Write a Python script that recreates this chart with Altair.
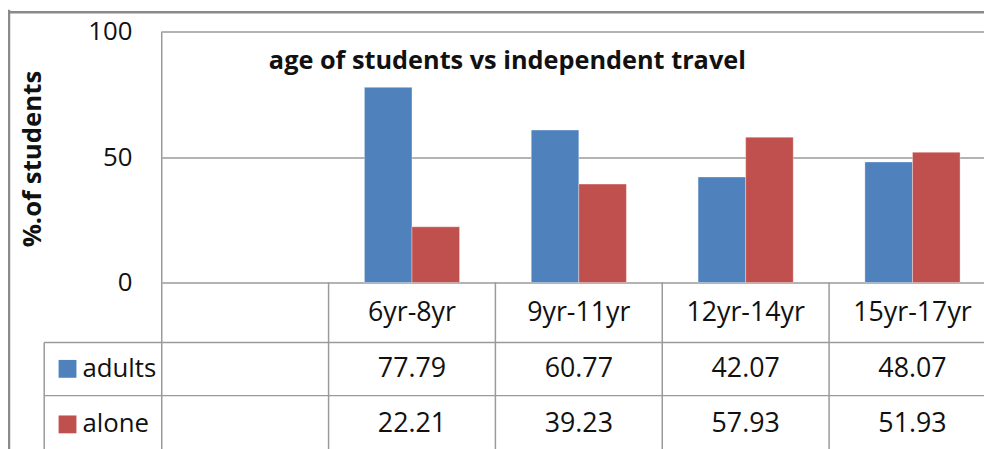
import altair as alt
import pandas as pd

# ---- data ----
categories = ["6yr-8yr", "9yr-11yr", "12yr-14yr", "15yr-17yr"]
series = ["adults", "alone"]
adults = [77.79, 60.77, 42.07, 48.07]
alone = [22.21, 39.23, 57.93, 51.93]
y_ticks = [0, 50, 100]
title_text = "age of students vs independent travel"
y_title = "%.of students"

# ---- styling ----
colors = ["#4F81BD", "#C0504D"]
FONT = "Open Sans"
TXT = "#111111"
GRID = "#9a9a9a"
cat_domain = [""] + categories   # Excel shows an empty first category

bars_df = pd.DataFrame({
    "cat": categories * 2,
    "series": [series[0]] * len(categories) + [series[1]] * len(categories),
    "value": adults + alone,
})
cats_df = pd.DataFrame({"cat": categories})
one = pd.DataFrame({"k": [0]})

x_scale = alt.Scale(domain=cat_domain, paddingInner=0, paddingOuter=0)
x_axis = alt.Axis(orient="bottom", ticks=False, tickSize=0, domain=False, grid=False,
                  labelFontSize=27, labelFont=FONT, labelColor=TXT, labelPadding=30,
                  labelBaseline="middle", labelAngle=0, title=None, labelOverlap=False)
y_axis = alt.Axis(values=y_ticks, grid=True, gridColor=GRID, gridWidth=1.5,
                  ticks=False, tickSize=0, domain=False,
                  labelFontSize=26, labelFont=FONT, labelColor=TXT, labelPadding=30,
                  title=y_title, titleFontSize=26, titleFont=FONT, titleFontWeight="bold",
                  titleColor=TXT, titleX=-130, titleY=128, titleAngle=270,
                  titleAlign="center", titleBaseline="middle")

legend = alt.Legend(orient="none", legendX=-108, legendY=327, title=None,
                    symbolType="square", symbolSize=324, symbolStrokeWidth=0,
                    labelFontSize=26, labelFont=FONT, labelColor=TXT, labelOffset=2,
                    rowPadding=30, padding=0, symbolOpacity=1)

bars = alt.Chart(bars_df).mark_bar(stroke="#ffffff", strokeOpacity=0.35, strokeWidth=1).encode(
    x=alt.X("cat:N", scale=x_scale, axis=x_axis),
    xOffset=alt.XOffset("series:N", scale=alt.Scale(domain=series, paddingInner=0, paddingOuter=0.753)),
    y=alt.Y("value:Q", scale=alt.Scale(domain=[0, 100]), axis=y_axis),
    color=alt.Color("series:N", scale=alt.Scale(domain=series, range=colors), legend=legend),
)

# table vertical lines at category starts
vlines = alt.Chart(cats_df).mark_rule(color=GRID, strokeWidth=1.5).encode(
    x=alt.X("cat:N", scale=x_scale, axis=x_axis, bandPosition=0),
    y=alt.value(253), y2=alt.value(425),
)

def rule(**kw):
    return alt.Chart(one).mark_rule(color=kw.pop("color", GRID), strokeWidth=kw.pop("sw", 1.5)).encode(**kw)

plot_left = rule(x=alt.value(0), y=alt.value(0), y2=alt.value(425))
row1 = rule(y=alt.value(313.5), x=alt.value(-118.5), x2=alt.value(860))
row2 = rule(y=alt.value(367), x=alt.value(-118.5), x2=alt.value(860))
leg_left = rule(x=alt.value(-118.5), y=alt.value(313.5), y2=alt.value(425))
outer_top = rule(y=alt.value(-19.5), x=alt.value(-155), x2=alt.value(860), color="#8a8a8a", sw=2.5)
outer_left = rule(x=alt.value(-154), y=alt.value(-22), y2=alt.value(425), color="#8a8a8a", sw=2.5)

def value_row(name, ypix):
    return alt.Chart(bars_df[bars_df["series"] == name]).mark_text(
        font=FONT, fontSize=27, color=TXT, baseline="middle", align="center"
    ).encode(
        x=alt.X("cat:N", scale=x_scale, axis=x_axis),
        y=alt.value(ypix),
        text=alt.Text("value:Q", format=".2f"),
    )

adult_txt = value_row("adults", 340.5)
alone_txt = value_row("alone", 396)

title = alt.Chart(one).mark_text(
    font=FONT, fontSize=25.5, fontWeight="bold", color=TXT, align="left", baseline="alphabetic"
).encode(x=alt.value(108), y=alt.value(38), text=alt.value(title_text))

# plot area is wider than the window (cropped on the right, as in the reference)
chart = alt.layer(
    outer_top, outer_left, row1, row2, leg_left, vlines, plot_left,
    bars, adult_txt, alone_txt, title,
).properties(
    width=841, height=253,
    autosize=alt.AutoSizeParams(type="none"),
    padding={"left": 155, "top": 22, "right": -12, "bottom": 166},
    background="white",
).configure_view(stroke=None)

chart.save("out.html", embed_options={"renderer": "svg", "actions": False})
